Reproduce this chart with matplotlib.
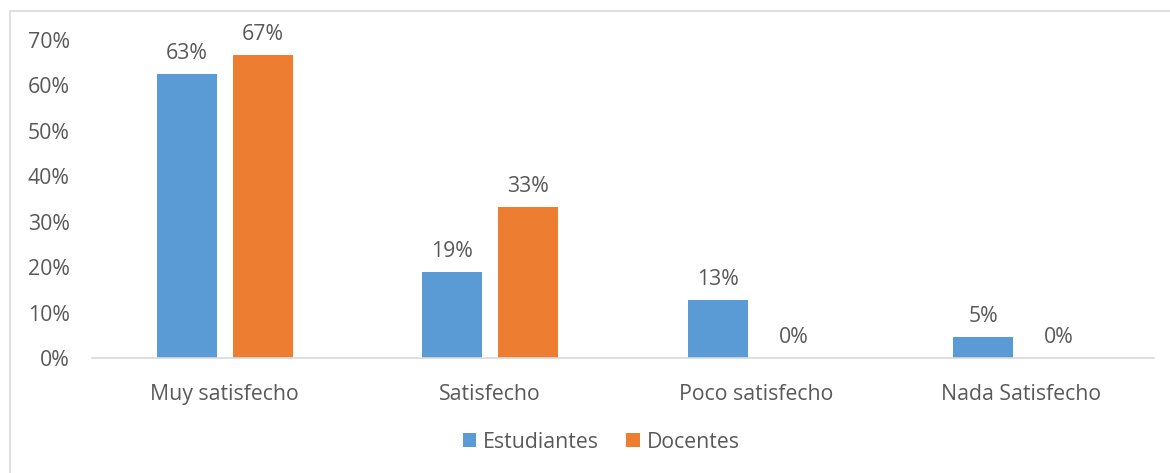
import matplotlib.pyplot as plt
import numpy as np
from matplotlib.patches import Rectangle
from matplotlib.ticker import PercentFormatter

categories = ['Muy satisfecho', 'Satisfecho', 'Poco satisfecho', 'Nada Satisfecho']
estudiantes = [0.626, 0.19, 0.128, 0.047]
docentes = [0.667, 0.333, 0.0, 0.0]

plt.rcParams['font.family'] = ['Open Sans', 'DejaVu Sans']
txt = '#595959'
fs = 15.3

fig = plt.figure(figsize=(11.7, 4.73), dpi=100)
ax = fig.add_axes([92 / 1170, 1 - 358 / 473, 1062 / 1170, 318 / 473])

x = np.arange(len(categories))
width = 0.226
off = 0.143
b1 = ax.bar(x - off, estudiantes, width, color='#5B9BD5', label='Estudiantes')
b2 = ax.bar(x + off, docentes, width, color='#ED7D31', label='Docentes')

for rect in list(b1) + list(b2):
    h = rect.get_height()
    ax.annotate(f'{h:.0%}', xy=(rect.get_x() + rect.get_width() / 2, h),
                xytext=(0, 7), textcoords='offset points',
                ha='center', va='bottom', fontsize=fs, color=txt)

ax.set_xlim(-0.5, len(categories) - 0.5)
ax.set_ylim(0, 0.7)
ax.set_yticks(np.arange(0, 0.71, 0.1))
ax.yaxis.set_major_formatter(PercentFormatter(1.0, decimals=0))
ax.set_xticks(x)
ax.set_xticklabels(categories)
ax.tick_params(axis='both', length=0, labelsize=fs, labelcolor=txt)
ax.tick_params(axis='y', pad=16)
ax.tick_params(axis='x', pad=19)
for s in ['top', 'right', 'left']:
    ax.spines[s].set_visible(False)
ax.spines['bottom'].set_color('#D9D9D9')
ax.spines['bottom'].set_linewidth(1.2)

leg = fig.legend(loc='center', bbox_to_anchor=(601 / 1170, 1 - 442 / 473), ncol=2,
                 frameon=False, fontsize=fs, handlelength=0.65, handleheight=0.65,
                 handletextpad=0.3, columnspacing=1.3)
for t in leg.get_texts():
    t.set_color(txt)

fig.patches.append(Rectangle((10 / 1170, -0.05), 1.1, 1 - 11 / 473 + 0.05,
                             transform=fig.transFigure, fill=False,
                             edgecolor='#D9D9D9', linewidth=1.2))

fig.savefig('out.png', dpi=100)
